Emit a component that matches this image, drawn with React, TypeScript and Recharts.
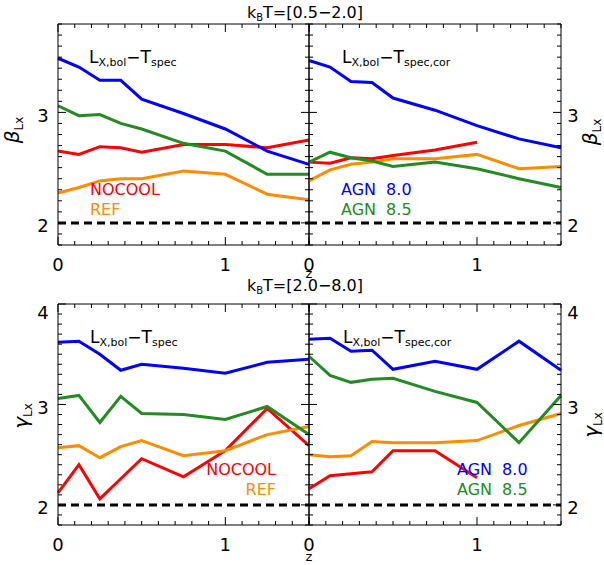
import { LineChart, Line, XAxis, YAxis, ReferenceLine } from "recharts";

const PAGE_W = 604;
const PAGE_H = 565;
const FONT = "'DejaVu Sans', sans-serif";

// redshift of each snapshot
const Z = [0, 0.125, 0.25, 0.375, 0.5, 0.75, 1, 1.25, 1.5];

// beta_Lx, kT = [0.5-2.0], Lx,bol - Tspec
const BETA_SPEC_NOCOOL = [2.65, 2.62, 2.69, 2.68, 2.64, 2.71, 2.71, 2.68, 2.75];
const BETA_SPEC_REF = [2.27, 2.32, 2.38, 2.4, 2.4, 2.47, 2.44, 2.26, 2.21];
const BETA_SPEC_AGN80 = [3.49, 3.41, 3.29, 3.29, 3.12, 2.99, 2.85, 2.65, 2.53];
const BETA_SPEC_AGN85 = [3.06, 2.97, 2.98, 2.9, 2.85, 2.72, 2.65, 2.44, 2.44];

// beta_Lx, kT = [0.5-2.0], Lx,bol - Tspec,cor
const BETA_COR_NOCOOL = [2.55, 2.54, 2.59, 2.58, 2.61, 2.66, 2.73, null, null];
const BETA_COR_REF = [2.38, 2.48, 2.53, 2.55, 2.58, 2.58, 2.62, 2.49, 2.51];
const BETA_COR_AGN80 = [3.47, 3.41, 3.28, 3.27, 3.13, 3.02, 2.88, 2.76, 2.68];
const BETA_COR_AGN85 = [2.55, 2.64, 2.59, 2.56, 2.51, 2.55, 2.49, 2.4, 2.32];

// gamma_Lx, kT = [2.0-8.0], Lx,bol - Tspec
const GAMMA_SPEC_NOCOOL = [2.12, 2.4, 2.06, 2.26, 2.46, 2.28, 2.54, 2.96, 2.59];
const GAMMA_SPEC_REF = [2.57, 2.59, 2.47, 2.58, 2.64, 2.49, 2.54, 2.7, 2.78];
const GAMMA_SPEC_AGN80 = [3.62, 3.63, 3.5, 3.34, 3.4, 3.36, 3.31, 3.42, 3.45];
const GAMMA_SPEC_AGN85 = [3.06, 3.09, 2.82, 3.08, 2.91, 2.9, 2.85, 2.98, 2.7];

// gamma_Lx, kT = [2.0-8.0], Lx,bol - Tspec,cor
const GAMMA_COR_NOCOOL = [2.16, 2.29, 2.31, 2.33, 2.54, 2.54, 2.27, null, null];
const GAMMA_COR_REF = [2.5, 2.48, 2.49, 2.63, 2.62, 2.62, 2.64, 2.79, 2.91];
const GAMMA_COR_AGN80 = [3.65, 3.66, 3.53, 3.54, 3.35, 3.43, 3.35, 3.63, 3.34];
const GAMMA_COR_AGN85 = [3.48, 3.29, 3.22, 3.25, 3.26, 3.13, 3.02, 2.62, 3.09];

const X_TICKS = [0, 0.1, 0.2, 0.3, 0.4, 0.5, 0.6, 0.7, 0.8, 0.9, 1, 1.1, 1.2, 1.3, 1.4, 1.5];
const X_LABELS = [0, 1];
const BETA_TICKS = [1.8, 1.9, 2, 2.1, 2.2, 2.3, 2.4, 2.5, 2.6, 2.7, 2.8, 2.9, 3, 3.1, 3.2, 3.3, 3.4, 3.5, 3.6, 3.7, 3.8];
const BETA_LABELS = [2, 3];
const GAMMA_TICKS = [1.8, 1.9, 2, 2.1, 2.2, 2.3, 2.4, 2.5, 2.6, 2.7, 2.8, 2.9, 3, 3.1, 3.2, 3.3, 3.4, 3.5, 3.6, 3.7, 3.8, 3.9, 4];
const GAMMA_LABELS = [2, 3, 4];
const SELF_SIMILAR = 2;

const RED = "#ff0000";
const ORANGE = "#ff8c00";
const BLUE = "#0000ff";
const GREEN = "#228b22";

function rows(nocool: (number | null)[], ref: number[], agn80: number[], agn85: number[]) {
  return Z.map((z, i) => ({ z, nocool: nocool[i], ref: ref[i], agn80: agn80[i], agn85: agn85[i] }));
}

const has = (list: number[], v: number) => list.some((m) => Math.abs(m - v) < 1e-6);

type Side = "left" | "right" | "top" | "bottom";

// IDL-style ticks: drawn inward from the frame, majors longer
function makeTick(side: Side, majors: number[], showLabels: boolean, maxV = Infinity) {
  return (p: any) => {
    const { x, y, payload } = p;
    const v = payload.value as number;
    const major = has(majors, v);
    const len = major ? 8 : 4;
    let line;
    if (side === "left") line = <line x1={x} x2={x + len} y1={y} y2={y} stroke="#000" />;
    else if (side === "right") line = <line x1={x} x2={x - len} y1={y} y2={y} stroke="#000" />;
    else if (side === "top") line = <line x1={x} x2={x} y1={y} y2={y + len} stroke="#000" />;
    else line = <line x1={x} x2={x} y1={y} y2={y - len} stroke="#000" />;

    let label = null;
    if (showLabels && major) {
      const props = { fontFamily: FONT, fontSize: 18, fill: "#000", textAnchor: "middle" as const };
      const dy = Math.abs(v - maxV) < 1e-6 ? 14.5 : 9.5;
      if (side === "left") label = <text {...props} x={x - 15} y={y + dy}>{v}</text>;
      else if (side === "right") label = <text {...props} x={x + 12} y={y + dy}>{v}</text>;
      else if (side === "bottom") label = <text {...props} x={x} y={y + 26}>{v}</text>;
    }
    return (
      <g key={`${side}-${v}`}>
        {line}
        {label}
      </g>
    );
  };
}

type PanelProps = {
  data: ReturnType<typeof rows>;
  left: number;
  right: number;
  top: number;
  bottom: number;
  yTicks: number[];
  yLabels: number[];
  yDomain: [number, number];
  labelSide: "left" | "right";
};

// axes get 1px of room each, so the margins are 1px short of the frame
const AX = 1;

function Panel({ data, left, right, top, bottom, yTicks, yLabels, yDomain, labelSide }: PanelProps) {
  const frame = { stroke: "#000", strokeWidth: 1 };
  // both axis pairs share one domain; AGN runs are bound to the top/right pair so those axes get drawn too
  return (
    <div style={{ position: "absolute", left: 0, top: 0 }}>
      <LineChart
        width={PAGE_W}
        height={PAGE_H}
        data={data}
        margin={{ top: top - AX, left: left - AX, right: PAGE_W - right - AX, bottom: PAGE_H - bottom - AX }}
      >
        <XAxis xAxisId="b" dataKey="z" type="number" domain={[0, 1.5]} ticks={X_TICKS} interval={0}
          height={AX} tickSize={0} tickMargin={0} tickLine={false} axisLine={frame}
          tick={makeTick("bottom", X_LABELS, true)} />
        <XAxis xAxisId="t" orientation="top" dataKey="z" type="number" domain={[0, 1.5]} ticks={X_TICKS} interval={0}
          height={AX} tickSize={0} tickMargin={0} tickLine={false} axisLine={frame}
          tick={makeTick("top", X_LABELS, false)} />
        <YAxis yAxisId="l" type="number" domain={yDomain} ticks={yTicks} interval={0}
          width={AX} tickSize={0} tickMargin={0} tickLine={false} axisLine={frame}
          tick={makeTick("left", yLabels, labelSide === "left", yDomain[1])} />
        <YAxis yAxisId="r" orientation="right" type="number" domain={yDomain} ticks={yTicks} interval={0}
          width={AX} tickSize={0} tickMargin={0} tickLine={false} axisLine={frame}
          tick={makeTick("right", yLabels, labelSide === "right", yDomain[1])} />
        <ReferenceLine xAxisId="b" yAxisId="l" y={SELF_SIMILAR} stroke="#000" strokeWidth={3} strokeDasharray="8 5" />
        <Line xAxisId="b" yAxisId="l" dataKey="nocool" stroke={RED} strokeWidth={3} dot={false} isAnimationActive={false} />
        <Line xAxisId="b" yAxisId="l" dataKey="ref" stroke={ORANGE} strokeWidth={3} dot={false} isAnimationActive={false} />
        <Line xAxisId="t" yAxisId="r" dataKey="agn80" stroke={BLUE} strokeWidth={3} dot={false} isAnimationActive={false} />
        <Line xAxisId="t" yAxisId="r" dataKey="agn85" stroke={GREEN} strokeWidth={3} dot={false} isAnimationActive={false} />
      </LineChart>
    </div>
  );
}

function RelationLabel({ x, y, cor }: { x: number; y: number; cor: boolean }) {
  return (
    <text x={x} y={y} fontFamily={FONT} fontSize={17} fill="#000">
      L<tspan fontSize={11} dy={3}>X,bol</tspan>
      <tspan dy={-3}>−T</tspan>
      <tspan fontSize={11} dy={3}>{cor ? "spec,cor" : "spec"}</tspan>
    </text>
  );
}

function AxisTitle({ x, y, sym }: { x: number; y: number; sym: string }) {
  return (
    <text x={x} y={y} transform={`rotate(-90 ${x} ${y})`} textAnchor="middle" fontFamily={FONT} fontSize={20}
      fontStyle="italic" fill="#000">
      {sym}
      <tspan fontSize={12} fontStyle="normal" dy={4}>Lx</tspan>
    </text>
  );
}

function Overlay() {
  const t = { fontFamily: FONT, fill: "#000" };
  return (
    <svg width={PAGE_W} height={PAGE_H} style={{ position: "absolute", left: 0, top: 0, pointerEvents: "none" }}>
      <text {...t} x={305} y={18} fontSize={16} textAnchor="middle">
        k<tspan fontSize={10} dy={3}>B</tspan><tspan dy={-3}>T=[0.5−2.0]</tspan>
      </text>
      <text {...t} x={305} y={291} fontSize={16} textAnchor="middle">
        k<tspan fontSize={10} dy={3}>B</tspan><tspan dy={-3}>T=[2.0−8.0]</tspan>
      </text>
      <text {...t} x={309} y={278} fontSize={13} textAnchor="middle">z</text>
      <text {...t} x={309} y={561} fontSize={13} textAnchor="middle">z</text>

      <AxisTitle x={19} y={130} sym="β" />
      <AxisTitle x={597} y={132} sym="β" />
      <AxisTitle x={28} y={416} sym="γ" />
      <AxisTitle x={598} y={425} sym="γ" />

      <RelationLabel x={89} y={63} cor={false} />
      <RelationLabel x={342} y={63} cor={true} />
      <RelationLabel x={90} y={343} cor={false} />
      <RelationLabel x={343} y={343} cor={true} />

      <text fontFamily={FONT} fontSize={16} fill={RED} x={90} y={195}>NOCOOL</text>
      <text fontFamily={FONT} fontSize={16} fill={ORANGE} x={90} y={215}>REF</text>
      <text fontFamily={FONT} fontSize={16} fill={BLUE} x={341} y={195}>AGN<tspan dx={5}> 8.0</tspan></text>
      <text fontFamily={FONT} fontSize={16} fill={GREEN} x={341} y={215}>AGN<tspan dx={5}> 8.5</tspan></text>

      <text fontFamily={FONT} fontSize={16} fill={RED} x={276} y={475} textAnchor="end">NOCOOL</text>
      <text fontFamily={FONT} fontSize={16} fill={ORANGE} x={276} y={495} textAnchor="end">REF</text>
      <text fontFamily={FONT} fontSize={16} fill={BLUE} x={457} y={475}>AGN<tspan dx={5}> 8.0</tspan></text>
      <text fontFamily={FONT} fontSize={16} fill={GREEN} x={457} y={495}>AGN<tspan dx={5}> 8.5</tspan></text>
    </svg>
  );
}

export default function App() {
  return (
    <div style={{ position: "absolute", left: 0, top: 0, width: PAGE_W, height: PAGE_H, background: "#fff" }}>
      <Panel data={rows(BETA_SPEC_NOCOOL, BETA_SPEC_REF, BETA_SPEC_AGN80, BETA_SPEC_AGN85)}
        left={58} right={309} top={24} bottom={245} yTicks={BETA_TICKS} yLabels={BETA_LABELS} yDomain={[1.8, 3.8]} labelSide="left" />
      <Panel data={rows(BETA_COR_NOCOOL, BETA_COR_REF, BETA_COR_AGN80, BETA_COR_AGN85)}
        left={309} right={561} top={24} bottom={245} yTicks={BETA_TICKS} yLabels={BETA_LABELS} yDomain={[1.8, 3.8]} labelSide="right" />
      <Panel data={rows(GAMMA_SPEC_NOCOOL, GAMMA_SPEC_REF, GAMMA_SPEC_AGN80, GAMMA_SPEC_AGN85)}
        left={58} right={309} top={304} bottom={525} yTicks={GAMMA_TICKS} yLabels={GAMMA_LABELS} yDomain={[1.8, 4.0]} labelSide="left" />
      <Panel data={rows(GAMMA_COR_NOCOOL, GAMMA_COR_REF, GAMMA_COR_AGN80, GAMMA_COR_AGN85)}
        left={309} right={561} top={304} bottom={525} yTicks={GAMMA_TICKS} yLabels={GAMMA_LABELS} yDomain={[1.8, 4.0]} labelSide="right" />
      <Overlay />
    </div>
  );
}
